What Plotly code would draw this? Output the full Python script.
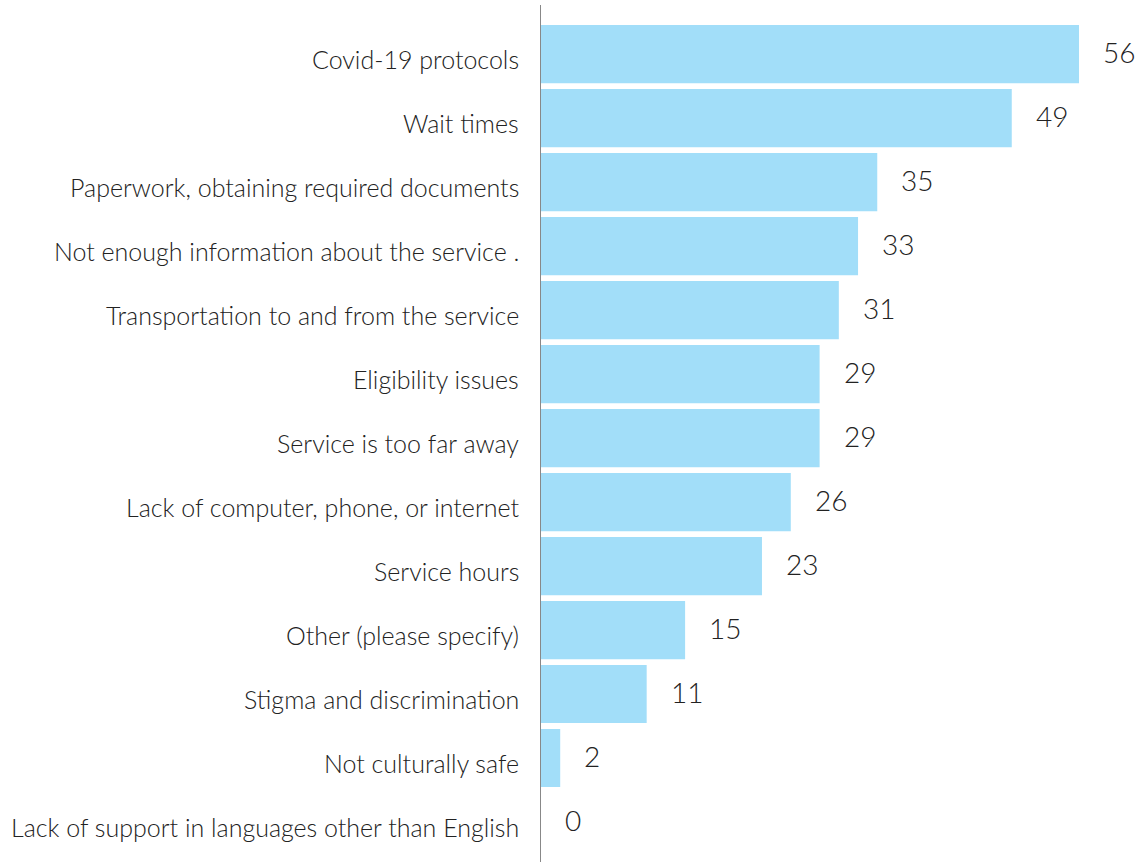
import plotly.graph_objects as go

categories = [
    "Covid-19 protocols",
    "Wait times",
    "Paperwork, obtaining required documents",
    "Not enough information about the service .",
    "Transportation to and from the service",
    "Eligibility issues",
    "Service is too far away",
    "Lack of computer, phone, or internet",
    "Service hours",
    "Other (please specify)",
    "Stigma and discrimination",
    "Not culturally safe",
    "Lack of support in languages other than English",
]
values = [56, 49, 35, 33, 31, 29, 29, 26, 23, 15, 11, 2, 0]

BAR_COLOR = "#a2def9"
TEXT_COLOR = "#222222"
FONT = "Lato"

fig = go.Figure(
    go.Bar(
        x=values,
        y=categories,
        orientation="h",
        marker=dict(color=BAR_COLOR, line=dict(width=0)),
        hoverinfo="skip",
    )
)

for c, v in zip(categories, values):
    fig.add_annotation(
        x=v, y=c, xref="x", yref="y",
        text=str(v), showarrow=False,
        xanchor="left", xshift=22, yshift=2,
        font=dict(family=FONT, size=28, color=TEXT_COLOR, weight=300),
    )
    fig.add_annotation(
        x=0, y=c, xref="paper", yref="y",
        text=c, showarrow=False,
        xanchor="right", xshift=-20, yshift=-5,
        font=dict(family=FONT, size=25, color=TEXT_COLOR, weight=300),
    )

n = len(categories)
fig.update_layout(
    width=1143, height=863,
    margin=dict(l=541, r=0, t=5, b=1),
    paper_bgcolor="white", plot_bgcolor="white",
    bargap=0.09,
    showlegend=False,
    font=dict(family=FONT, color=TEXT_COLOR),
)
fig.update_xaxes(
    range=[0, 62.66], showgrid=False, zeroline=False,
    showticklabels=False, ticks="", showline=False,
)
fig.update_yaxes(
    type="category",
    categoryorder="array", categoryarray=categories,
    range=[n - 1 + 0.625, -0.766],
    showgrid=False, zeroline=False,
    showline=True, linecolor="#888888", linewidth=1,
    ticks="", showticklabels=False,
)

fig.write_html(
    "out.html",
    config={"displayModeBar": False},
    post_script="document.body.style.margin='0';document.body.style.overflow='hidden';",
)
